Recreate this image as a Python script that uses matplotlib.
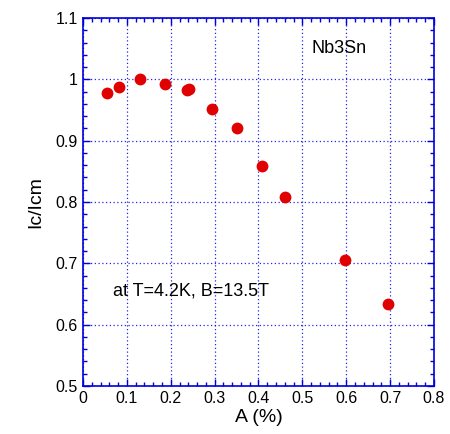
import matplotlib
matplotlib.use("Agg")
import matplotlib.pyplot as plt
from matplotlib.ticker import MultipleLocator

# strain A (%) vs normalised critical current
strain = [0.054, 0.083, 0.131, 0.188, 0.237, 0.242, 0.294, 0.350, 0.409, 0.461, 0.597, 0.696]
ic_norm = [0.977, 0.987, 1.000, 0.992, 0.982, 0.985, 0.951, 0.921, 0.859, 0.808, 0.706, 0.634]

plt.rcParams["font.family"] = ["Liberation Sans", "DejaVu Sans"]

fig = plt.figure(figsize=(4.5, 4.34), dpi=100)
ax = fig.add_axes([0.1844, 0.1106, 0.78, 0.8479])

ax.plot(strain, ic_norm, "o", color="#e00000", markersize=8.5, markeredgewidth=0, zorder=3)

ax.set_xlim(0, 0.8)
ax.set_ylim(0.5, 1.1)
ax.xaxis.set_major_locator(MultipleLocator(0.1))
ax.xaxis.set_minor_locator(MultipleLocator(0.02))
ax.yaxis.set_major_locator(MultipleLocator(0.1))
ax.yaxis.set_minor_locator(MultipleLocator(0.02))
ax.xaxis.set_major_formatter(plt.FuncFormatter(lambda v, p: f"{v:g}"))
ax.yaxis.set_major_formatter(plt.FuncFormatter(lambda v, p: f"{v:g}"))

blue = "#0000dd"
for s in ax.spines.values():
    s.set_color(blue)
    s.set_linewidth(1.2)
ax.tick_params(which="both", direction="in", top=True, right=True, color=blue,
               labelsize=11.5, labelcolor="black")
ax.tick_params(which="major", length=5, width=1)
ax.tick_params(which="minor", length=3, width=1)
ax.grid(True, which="major", color=blue, linestyle=(0, (1, 2)), linewidth=0.9, alpha=0.85)

ax.set_xlabel("A (%)", fontsize=14, labelpad=2)
ax.set_ylabel("Ic/Icm", fontsize=14, labelpad=8)

ax.text(0.521, 1.051, "Nb3Sn", fontsize=13, va="center", ha="left")
ax.text(0.069, 0.655, "at T=4.2K, B=13.5T", fontsize=13, va="center", ha="left")

fig.savefig("out.png", dpi=100)
